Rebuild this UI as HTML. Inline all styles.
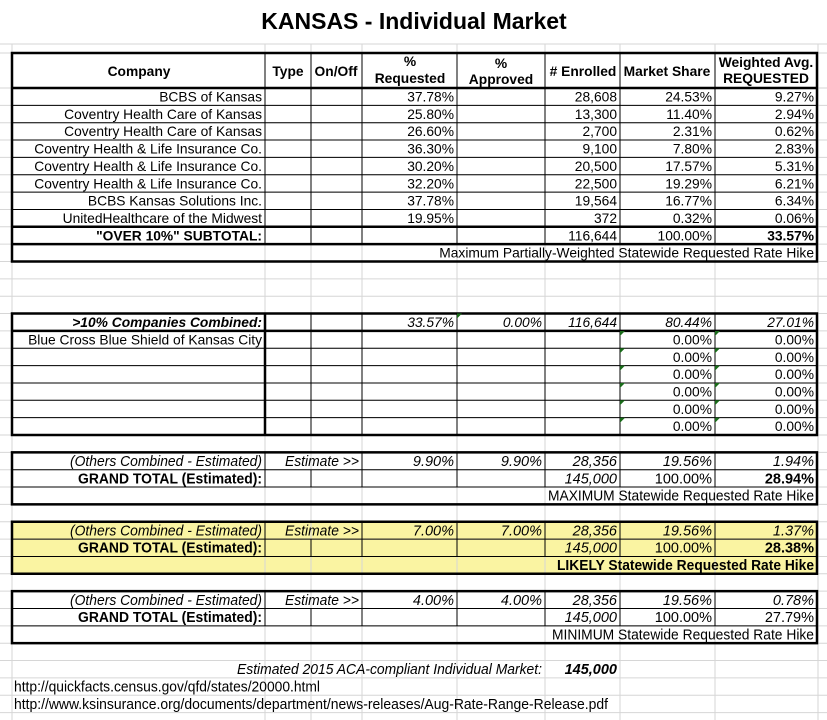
<!DOCTYPE html>
<html><head><meta charset="utf-8"><style>
html,body{margin:0;padding:0;background:#fff;}
svg{display:block;font-family:"Liberation Sans",Arial,sans-serif;}
.t{font-size:13.8px;fill:#000;}
.r{text-anchor:end;}
.c{text-anchor:middle;}
.b{font-weight:bold;}
.i{font-style:italic;}
.n{font-size:14.5px;}
</style></head><body>
<svg width="827" height="720" viewBox="0 0 827 720" xmlns="http://www.w3.org/2000/svg">
<rect width="827" height="720" fill="#fff"/>
<rect x="12" y="521.75" width="805" height="52" fill="#faf4a2"/>
<g stroke="#d6d6d6" stroke-width="1">
<line x1="0" y1="44" x2="827" y2="44"/><line x1="0" y1="53" x2="827" y2="53"/>
<line x1="0" y1="88" x2="827" y2="88"/><line x1="0" y1="105.35" x2="827" y2="105.35"/><line x1="0" y1="122.7" x2="827" y2="122.7"/><line x1="0" y1="140.05" x2="827" y2="140.05"/><line x1="0" y1="157.4" x2="827" y2="157.4"/><line x1="0" y1="174.75" x2="827" y2="174.75"/><line x1="0" y1="192.1" x2="827" y2="192.1"/><line x1="0" y1="209.45" x2="827" y2="209.45"/><line x1="0" y1="226.8" x2="827" y2="226.8"/><line x1="0" y1="244.15" x2="827" y2="244.15"/><line x1="0" y1="261.5" x2="827" y2="261.5"/><line x1="0" y1="278.85" x2="827" y2="278.85"/><line x1="0" y1="296.2" x2="827" y2="296.2"/><line x1="0" y1="313.55" x2="827" y2="313.55"/><line x1="0" y1="330.9" x2="827" y2="330.9"/><line x1="0" y1="348.25" x2="827" y2="348.25"/><line x1="0" y1="365.6" x2="827" y2="365.6"/><line x1="0" y1="382.95" x2="827" y2="382.95"/><line x1="0" y1="400.3" x2="827" y2="400.3"/><line x1="0" y1="417.65" x2="827" y2="417.65"/><line x1="0" y1="435" x2="827" y2="435"/><line x1="0" y1="452.35" x2="827" y2="452.35"/><line x1="0" y1="469.7" x2="827" y2="469.7"/><line x1="0" y1="487.05" x2="827" y2="487.05"/><line x1="0" y1="504.4" x2="827" y2="504.4"/><line x1="0" y1="521.75" x2="827" y2="521.75"/><line x1="0" y1="539.1" x2="827" y2="539.1"/><line x1="0" y1="556.45" x2="827" y2="556.45"/><line x1="0" y1="573.8" x2="827" y2="573.8"/><line x1="0" y1="591.15" x2="827" y2="591.15"/><line x1="0" y1="608.5" x2="827" y2="608.5"/><line x1="0" y1="625.85" x2="827" y2="625.85"/><line x1="0" y1="643.2" x2="827" y2="643.2"/><line x1="0" y1="660.55" x2="827" y2="660.55"/><line x1="0" y1="677.9" x2="827" y2="677.9"/><line x1="0" y1="695.25" x2="827" y2="695.25"/><line x1="0" y1="712.6" x2="827" y2="712.6"/>
<line x1="12" y1="44" x2="12" y2="720"/><line x1="265" y1="44" x2="265" y2="720"/><line x1="311" y1="44" x2="311" y2="720"/><line x1="362" y1="44" x2="362" y2="720"/><line x1="457" y1="44" x2="457" y2="720"/><line x1="545" y1="44" x2="545" y2="720"/><line x1="620" y1="44" x2="620" y2="720"/><line x1="715" y1="44" x2="715" y2="720"/><line x1="818" y1="44" x2="818" y2="720"/>
</g>
<text x="414" y="29" class="b c" style="font-size:23px">KANSAS - Individual Market</text>

<g stroke="#000" stroke-width="1" fill="none">
<line x1="12" y1="105.35" x2="817" y2="105.35"/><line x1="12" y1="122.7" x2="817" y2="122.7"/><line x1="12" y1="140.05" x2="817" y2="140.05"/><line x1="12" y1="157.4" x2="817" y2="157.4"/><line x1="12" y1="174.75" x2="817" y2="174.75"/><line x1="12" y1="192.1" x2="817" y2="192.1"/><line x1="12" y1="209.45" x2="817" y2="209.45"/>
<line x1="265" y1="53" x2="265" y2="244"/><line x1="311" y1="53" x2="311" y2="244"/><line x1="362" y1="53" x2="362" y2="244"/><line x1="457" y1="53" x2="457" y2="244"/><line x1="545" y1="53" x2="545" y2="244"/><line x1="620" y1="53" x2="620" y2="244"/><line x1="715" y1="53" x2="715" y2="244"/>
<g stroke-width="2.5"><line x1="12" y1="88" x2="817" y2="88"/><line x1="12" y1="226.8" x2="817" y2="226.8"/><line x1="12" y1="244.15" x2="817" y2="244.15"/><rect x="12" y="53" width="805" height="208.5"/></g>
</g>
<g class="t">
<text x="139" y="76" class="b c">Company</text>
<text x="288" y="76" class="b c">Type</text>
<text x="336" y="76" class="b c">On/Off</text>
<text x="410" y="66" class="b c">%</text><text x="410" y="83" class="b c">Requested</text>
<text x="501" y="68" class="b c">%</text><text x="501" y="84" class="b c">Approved</text>
<text x="583" y="76" class="b c"># Enrolled</text>
<text x="667" y="76" class="b c">Market Share</text>
<text x="766" y="67" class="b c">Weighted Avg.</text><text x="766" y="83" class="b c">REQUESTED</text>
</g>
<g class="t r">
<text x="262" y="101.5">BCBS of Kansas</text><text x="454" y="101.5">37.78%</text><text x="617" y="101.5">28,608</text><text x="712" y="101.5">24.53%</text><text x="814" y="101.5">9.27%</text>
<text x="262" y="118.9">Coventry Health Care of Kansas</text><text x="454" y="118.9">25.80%</text><text x="617" y="118.9">13,300</text><text x="712" y="118.9">11.40%</text><text x="814" y="118.9">2.94%</text>
<text x="262" y="136.2">Coventry Health Care of Kansas</text><text x="454" y="136.2">26.60%</text><text x="617" y="136.2">2,700</text><text x="712" y="136.2">2.31%</text><text x="814" y="136.2">0.62%</text>
<text x="262" y="153.6">Coventry Health &amp; Life Insurance Co.</text><text x="454" y="153.6">36.30%</text><text x="617" y="153.6">9,100</text><text x="712" y="153.6">7.80%</text><text x="814" y="153.6">2.83%</text>
<text x="262" y="170.9">Coventry Health &amp; Life Insurance Co.</text><text x="454" y="170.9">30.20%</text><text x="617" y="170.9">20,500</text><text x="712" y="170.9">17.57%</text><text x="814" y="170.9">5.31%</text>
<text x="262" y="188.3">Coventry Health &amp; Life Insurance Co.</text><text x="454" y="188.3">32.20%</text><text x="617" y="188.3">22,500</text><text x="712" y="188.3">19.29%</text><text x="814" y="188.3">6.21%</text>
<text x="262" y="205.6">BCBS Kansas Solutions Inc.</text><text x="454" y="205.6">37.78%</text><text x="617" y="205.6">19,564</text><text x="712" y="205.6">16.77%</text><text x="814" y="205.6">6.34%</text>
<text x="262" y="223">UnitedHealthcare of the Midwest</text><text x="454" y="223">19.95%</text><text x="617" y="223">372</text><text x="712" y="223">0.32%</text><text x="814" y="223">0.06%</text>
<text x="262" y="240.3" class="b">"OVER 10%" SUBTOTAL:</text><text x="617" y="240.3">116,644</text><text x="712" y="240.3">100.00%</text><text x="814" y="240.3" class="b">33.57%</text>
<text x="814" y="257.7">Maximum Partially-Weighted Statewide Requested Rate Hike</text>
</g>

<g stroke="#000" stroke-width="1" fill="none">
<line x1="12" y1="348.25" x2="817" y2="348.25"/><line x1="12" y1="365.6" x2="817" y2="365.6"/><line x1="12" y1="382.95" x2="817" y2="382.95"/><line x1="12" y1="400.3" x2="817" y2="400.3"/><line x1="12" y1="417.65" x2="817" y2="417.65"/>
<line x1="311" y1="313.5" x2="311" y2="435"/><line x1="362" y1="313.5" x2="362" y2="435"/><line x1="457" y1="313.5" x2="457" y2="435"/><line x1="545" y1="313.5" x2="545" y2="435"/><line x1="620" y1="313.5" x2="620" y2="435"/><line x1="715" y1="313.5" x2="715" y2="435"/>
<g stroke-width="2.5"><line x1="265" y1="313.5" x2="265" y2="435"/><line x1="12" y1="330.9" x2="817" y2="330.9"/><rect x="12" y="313.5" width="805" height="121.5"/></g>
</g>
<g fill="#1a6b1a">
<polygon points="457,313.5 462,313.5 457,318.5"/>
<polygon points="620,331 625,331 620,336"/><polygon points="715,331 720,331 715,336"/>
<polygon points="620,348.3 625,348.3 620,353.3"/><polygon points="715,348.3 720,348.3 715,353.3"/>
<polygon points="620,365.6 625,365.6 620,370.6"/><polygon points="715,365.6 720,365.6 715,370.6"/>
<polygon points="620,383 625,383 620,388"/><polygon points="715,383 720,383 715,388"/>
<polygon points="620,400.3 625,400.3 620,405.3"/><polygon points="715,400.3 720,400.3 715,405.3"/>
<polygon points="620,417.7 625,417.7 620,422.7"/><polygon points="715,417.7 720,417.7 715,422.7"/>
</g>
<g class="t r">
<text x="262" y="327" class="b i">&gt;10% Companies Combined:</text><text x="454" y="327" class="i">33.57%</text><text x="542" y="327" class="i">0.00%</text><text x="617" y="327" class="i">116,644</text><text x="712" y="327" class="i">80.44%</text><text x="814" y="327" class="i">27.01%</text>
<text x="262" y="344.4">Blue Cross Blue Shield of Kansas City</text><text x="712" y="344.4">0.00%</text><text x="814" y="344.4">0.00%</text>
<text x="712" y="361.8">0.00%</text><text x="814" y="361.8">0.00%</text>
<text x="712" y="379.1">0.00%</text><text x="814" y="379.1">0.00%</text>
<text x="712" y="396.5">0.00%</text><text x="814" y="396.5">0.00%</text>
<text x="712" y="413.8">0.00%</text><text x="814" y="413.8">0.00%</text>
<text x="712" y="431.2">0.00%</text><text x="814" y="431.2">0.00%</text>
</g>

<g stroke="#000" stroke-width="1" fill="none">
<line x1="12" y1="469.7" x2="817" y2="469.7"/><line x1="12" y1="487.05" x2="817" y2="487.05"/>
<line x1="265" y1="452" x2="265" y2="487"/><line x1="311" y1="469.7" x2="311" y2="487"/><line x1="362" y1="452" x2="362" y2="487"/><line x1="457" y1="452" x2="457" y2="487"/><line x1="545" y1="452" x2="545" y2="487"/><line x1="620" y1="452" x2="620" y2="487"/><line x1="715" y1="452" x2="715" y2="487"/>
<rect x="12" y="452.35" width="805" height="52" stroke-width="2.5"/>
</g>
<g class="t r n">
<text x="262" y="466" class="i" textLength="192" lengthAdjust="spacingAndGlyphs">(Others Combined - Estimated)</text><text x="359" y="466" class="i" textLength="74" lengthAdjust="spacingAndGlyphs">Estimate &gt;&gt;</text><text x="454" y="466" class="i">9.90%</text><text x="542" y="466" class="i">9.90%</text><text x="617" y="466" class="i">28,356</text><text x="712" y="466" class="i">19.56%</text><text x="814" y="466" class="i">1.94%</text>
<text x="262" y="483.3" class="b" textLength="184" lengthAdjust="spacingAndGlyphs">GRAND TOTAL (Estimated):</text><text x="617" y="483.3" class="i">145,000</text><text x="712" y="483.3">100.00%</text><text x="814" y="483.3" class="b">28.94%</text>
<text x="814" y="500.7" textLength="266" lengthAdjust="spacingAndGlyphs">MAXIMUM Statewide Requested Rate Hike</text>
</g>

<g stroke="#000" stroke-width="1" fill="none">
<line x1="12" y1="539.1" x2="817" y2="539.1"/><line x1="12" y1="556.45" x2="817" y2="556.45"/>
<line x1="265" y1="521.75" x2="265" y2="556.45"/><line x1="311" y1="539.1" x2="311" y2="556.45"/><line x1="362" y1="521.75" x2="362" y2="556.45"/><line x1="457" y1="521.75" x2="457" y2="556.45"/><line x1="545" y1="521.75" x2="545" y2="556.45"/><line x1="620" y1="521.75" x2="620" y2="556.45"/><line x1="715" y1="521.75" x2="715" y2="556.45"/>
<rect x="12" y="521.75" width="805" height="52" stroke-width="2.5"/>
</g>
<g class="t r n">
<text x="262" y="535.4" class="i" textLength="192" lengthAdjust="spacingAndGlyphs">(Others Combined - Estimated)</text><text x="359" y="535.4" class="i" textLength="74" lengthAdjust="spacingAndGlyphs">Estimate &gt;&gt;</text><text x="454" y="535.4" class="i">7.00%</text><text x="542" y="535.4" class="i">7.00%</text><text x="617" y="535.4" class="i">28,356</text><text x="712" y="535.4" class="i">19.56%</text><text x="814" y="535.4" class="i">1.37%</text>
<text x="262" y="552.7" class="b" textLength="184" lengthAdjust="spacingAndGlyphs">GRAND TOTAL (Estimated):</text><text x="617" y="552.7" class="i">145,000</text><text x="712" y="552.7">100.00%</text><text x="814" y="552.7" class="b">28.38%</text>
<text x="814" y="570.1" class="b" textLength="257" lengthAdjust="spacingAndGlyphs">LIKELY Statewide Requested Rate Hike</text>
</g>

<g stroke="#000" stroke-width="1" fill="none">
<line x1="12" y1="608.5" x2="817" y2="608.5"/><line x1="12" y1="625.85" x2="817" y2="625.85"/>
<line x1="265" y1="591.15" x2="265" y2="625.85"/><line x1="311" y1="608.5" x2="311" y2="625.85"/><line x1="362" y1="591.15" x2="362" y2="625.85"/><line x1="457" y1="591.15" x2="457" y2="625.85"/><line x1="545" y1="591.15" x2="545" y2="625.85"/><line x1="620" y1="591.15" x2="620" y2="625.85"/><line x1="715" y1="591.15" x2="715" y2="625.85"/>
<rect x="12" y="591.15" width="805" height="52" stroke-width="2.5"/>
</g>
<g class="t r n">
<text x="262" y="604.8" class="i" textLength="192" lengthAdjust="spacingAndGlyphs">(Others Combined - Estimated)</text><text x="359" y="604.8" class="i" textLength="74" lengthAdjust="spacingAndGlyphs">Estimate &gt;&gt;</text><text x="454" y="604.8" class="i">4.00%</text><text x="542" y="604.8" class="i">4.00%</text><text x="617" y="604.8" class="i">28,356</text><text x="712" y="604.8" class="i">19.56%</text><text x="814" y="604.8" class="i">0.78%</text>
<text x="262" y="622.1" class="b" textLength="184" lengthAdjust="spacingAndGlyphs">GRAND TOTAL (Estimated):</text><text x="617" y="622.1" class="i">145,000</text><text x="712" y="622.1">100.00%</text><text x="814" y="622.1">27.79%</text>
<text x="814" y="639.5" textLength="262" lengthAdjust="spacingAndGlyphs">MINIMUM Statewide Requested Rate Hike</text>
</g>

<g class="t n">
<text x="542" y="674.2" class="r i" textLength="305" lengthAdjust="spacingAndGlyphs">Estimated 2015 ACA-compliant Individual Market:</text>
<text x="617" y="674.2" class="r i b">145,000</text>
<text x="14" y="691.5" textLength="306" lengthAdjust="spacingAndGlyphs">http://quickfacts.census.gov/qfd/states/20000.html</text>
<text x="14" y="708.9" textLength="594" lengthAdjust="spacingAndGlyphs">http://www.ksinsurance.org/documents/department/news-releases/Aug-Rate-Range-Release.pdf</text>
</g>
</svg>
</body></html>
